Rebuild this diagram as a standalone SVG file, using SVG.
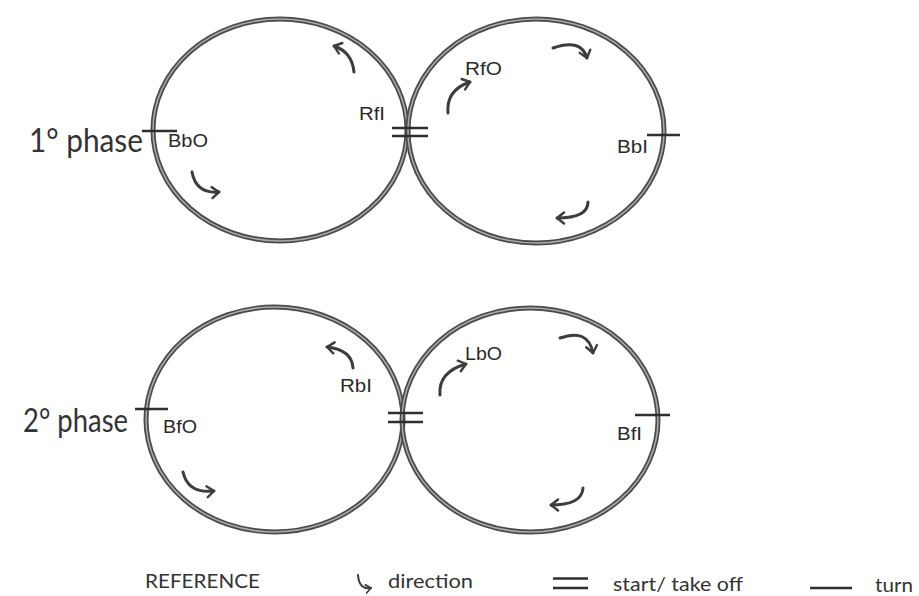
<svg xmlns="http://www.w3.org/2000/svg" width="919" height="596" viewBox="0 0 919 596">
<style>
.ring{fill:none;stroke:#4a4a4a;stroke-width:5}
.ringin{fill:none;stroke:#a8a8a8;stroke-width:1.6}
.mark{stroke:#2e2e2e;stroke-width:2.4;fill:none}
.arr{fill:none;stroke:#3c3c3c;stroke-width:3;stroke-linecap:round;marker-end:url(#head)}
.lbl{font-family:"Liberation Sans",Arial,sans-serif;font-size:18px;fill:#2a2a2a}
.phase{font-family:Lato,"Open Sans",sans-serif;font-size:32px;fill:#333}
.leg{font-family:Lato,"Open Sans",sans-serif;font-size:20px;fill:#333}
</style>
<defs>
<marker id="head" markerUnits="userSpaceOnUse" markerWidth="14" markerHeight="14" refX="10" refY="7" orient="auto" viewBox="0 0 14 14">
<path d="M3,1.5 L10,7 L3,12.5" fill="none" stroke="#3c3c3c" stroke-width="2.4" stroke-linecap="round" stroke-linejoin="round"/>
</marker>
<marker id="headS" markerUnits="userSpaceOnUse" markerWidth="12" markerHeight="12" refX="8" refY="6" orient="auto" viewBox="0 0 12 12">
<path d="M3,2 L8,6 L3,10" fill="none" stroke="#3c3c3c" stroke-width="1.8" stroke-linecap="round" stroke-linejoin="round"/>
</marker>
</defs>

<g id="phase1">
  <text class="phase" x="29" y="152" textLength="114" lengthAdjust="spacingAndGlyphs">1° phase</text>
</g>
<g id="phase2">
  <text class="phase" x="23" y="432" textLength="105" lengthAdjust="spacingAndGlyphs">2° phase</text>
</g>

<g id="circle-1L">
  <ellipse class="ring" cx="280" cy="130" rx="127" ry="111"/>
  <ellipse class="ringin" cx="280" cy="130" rx="127" ry="111"/>
</g>
<g id="circle-1R">
  <ellipse class="ring" cx="536" cy="131" rx="128" ry="112"/>
  <ellipse class="ringin" cx="536" cy="131" rx="128" ry="112"/>
</g>
<g id="circle-2L">
  <ellipse class="ring" cx="274.5" cy="419.5" rx="128.5" ry="112.5"/>
  <ellipse class="ringin" cx="274.5" cy="419.5" rx="128.5" ry="112.5"/>
</g>
<g id="circle-2R">
  <ellipse class="ring" cx="530" cy="420" rx="128" ry="112"/>
  <ellipse class="ringin" cx="530" cy="420" rx="128" ry="112"/>
</g>

<g id="marks">
  <path class="mark" d="M142,131 H177"/>
  <path class="mark" d="M647,135 H680"/>
  <path class="mark" d="M392,128 H428 M392,136 H428"/>
  <path class="mark" d="M135,409 H168"/>
  <path class="mark" d="M635,415 H670"/>
  <path class="mark" d="M388,413 H423 M388,422 H423"/>
</g>

<g id="labels">
  <text class="lbl" x="168" y="147" textLength="40" lengthAdjust="spacingAndGlyphs">BbO</text>
  <text class="lbl" x="359" y="120" textLength="26" lengthAdjust="spacingAndGlyphs">RfI</text>
  <text class="lbl" x="465" y="75" textLength="37" lengthAdjust="spacingAndGlyphs">RfO</text>
  <text class="lbl" x="617" y="153" textLength="31" lengthAdjust="spacingAndGlyphs">BbI</text>
  <text class="lbl" x="163" y="433" textLength="34" lengthAdjust="spacingAndGlyphs">BfO</text>
  <text class="lbl" x="340" y="392" textLength="32" lengthAdjust="spacingAndGlyphs">RbI</text>
  <text class="lbl" x="465" y="360" textLength="37" lengthAdjust="spacingAndGlyphs">LbO</text>
  <text class="lbl" x="617" y="440" textLength="25" lengthAdjust="spacingAndGlyphs">BfI</text>
</g>

<g id="connectors">
  <path class="arr" d="M354,72 Q352,52 334,46"/>
  <path class="arr" d="M192,172 Q196,194 219,192"/>
  <path class="arr" d="M448,113 Q446,90 470,82"/>
  <path class="arr" d="M553,48 Q581,38 587,58"/>
  <path class="arr" d="M588,202 Q588,218 557,218"/>
  <path class="arr" d="M353,368 Q352,350 327,347"/>
  <path class="arr" d="M183,472 Q188,494 214,491"/>
  <path class="arr" d="M440,395 Q438,372 466,364"/>
  <path class="arr" d="M560,338 Q588,328 593,353"/>
  <path class="arr" d="M583,488 Q582,505 551,505"/>
</g>

<g id="legend">
  <text class="leg" x="145" y="588" textLength="115" lengthAdjust="spacingAndGlyphs">REFERENCE</text>
  <path d="M358,575 Q359,590 371,588" fill="none" stroke="#3c3c3c" stroke-width="2" stroke-linecap="round" marker-end="url(#headS)"/>
  <text class="leg" x="388" y="588" textLength="85" lengthAdjust="spacingAndGlyphs">direction</text>
  <path class="mark" d="M553,578.5 H588 M553,588 H588"/>
  <text class="leg" x="613" y="591" textLength="130" lengthAdjust="spacingAndGlyphs">start/ take off</text>
  <path class="mark" d="M810,588 H852"/>
  <text class="leg" x="875" y="592" textLength="38" lengthAdjust="spacingAndGlyphs">turn</text>
</g>
</svg>
